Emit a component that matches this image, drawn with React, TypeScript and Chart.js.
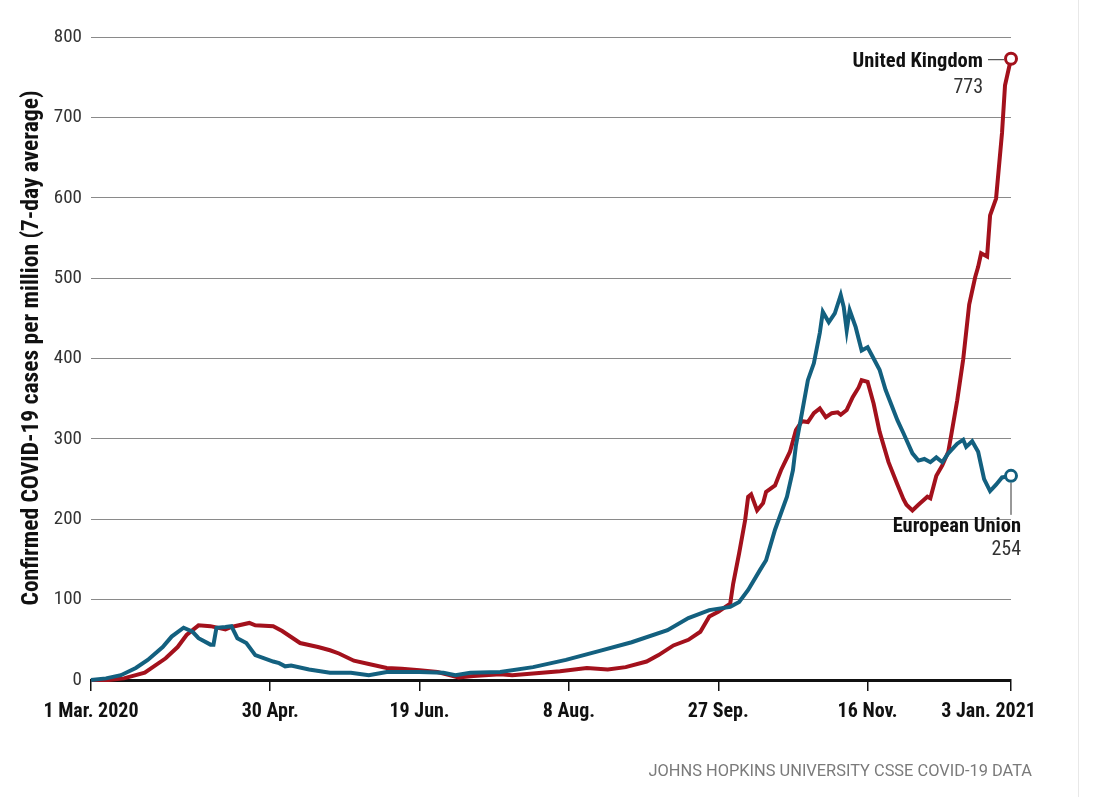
import React, { useEffect, useRef } from "react";
import { Chart, registerables } from "chart.js";

Chart.register(...registerables);

// x axis: days since 1 Mar. 2020
const xTickDays = [0, 60, 110, 160, 210, 260, 308];
const xTickLabels = ["1 Mar. 2020", "30 Apr.", "19 Jun.", "8 Aug.", "27 Sep.", "16 Nov.", "3 Jan. 2021"];
const yTickValues = [0, 100, 200, 300, 400, 500, 600, 700, 800];
const yTitle = "Confirmed COVID-19 cases per million (7-day average)";
const sourceText = "JOHNS HOPKINS UNIVERSITY CSSE COVID-19 DATA";

const ukDays = [0, 6, 11, 18, 25, 29, 32, 36, 40, 45, 47, 53, 55, 61, 64, 70, 76, 80, 83, 88, 93, 99, 104, 110, 116, 120, 123, 128, 137, 141, 148, 157, 166, 173, 179, 186, 190, 195, 200, 204, 207, 210, 214, 215, 217, 219, 220, 221, 223, 225, 226, 229, 231, 234, 236, 238, 240, 242, 244, 246, 248, 250, 251, 253, 255, 257, 258, 260, 262, 264, 267, 270, 272, 273, 275, 277, 280, 281, 283, 285, 287, 288, 290, 292, 294, 296, 297, 298, 300, 301, 303, 305, 306, 308];
const ukValues = [0, 0, 2, 9, 27, 41, 56, 68, 67, 63, 66, 71, 68, 67, 61, 46, 41, 37, 33, 24, 20, 15, 14, 12, 10, 6, 3, 5, 7, 6, 8, 11, 15, 13, 16, 23, 31, 43, 50, 60, 79, 85, 95, 120, 158, 199, 228, 231, 211, 220, 234, 242, 261, 284, 311, 322, 321, 332, 338, 327, 332, 333, 330, 336, 352, 364, 373, 371, 344, 309, 271, 243, 225, 218, 211, 218, 228, 226, 254, 267, 284, 305, 348, 399, 467, 501, 514, 531, 527, 578, 599, 681, 740, 773];

const euDays = [0, 5, 10, 15, 19, 24, 27, 31, 34, 36, 40, 41, 42, 45, 47, 49, 52, 55, 61, 63, 65, 67, 73, 80, 87, 93, 99, 110, 118, 122, 127, 137, 148, 159, 170, 181, 193, 200, 207, 214, 217, 220, 224, 226, 229, 233, 235, 236, 238, 240, 242, 244, 245, 247, 249, 251, 252, 253, 254, 256, 258, 260, 262, 264, 266, 270, 272, 275, 277, 279, 281, 283, 285, 287, 290, 292, 293, 295, 297, 299, 301, 303, 305, 308];
const euValues = [0, 2, 6, 15, 25, 41, 54, 65, 60, 52, 44, 44, 65, 66, 67, 52, 46, 31, 23, 21, 17, 18, 13, 9, 9, 6, 10, 10, 9, 6, 9, 10, 16, 25, 36, 47, 62, 77, 87, 91, 97, 112, 137, 149, 187, 228, 261, 292, 332, 373, 394, 432, 458, 445, 456, 479, 464, 435, 460, 439, 410, 414, 400, 386, 361, 323, 307, 282, 273, 275, 271, 277, 271, 282, 294, 299, 290, 297, 284, 250, 235, 243, 252, 254];

const UK_COLOR = "#a3111c";
const EU_COLOR = "#13607f";
const COND = "'Roboto Condensed', 'Liberation Sans Narrow', 'Arial Narrow', 'DejaVu Sans Condensed', sans-serif";

const annotationPlugin = {
  id: "endLabels",
  afterDatasetsDraw(chart: any) {
    const ctx = chart.ctx;
    const xs = chart.scales.x;
    const ys = chart.scales.y;
    const ukX = xs.getPixelForValue(ukDays[ukDays.length - 1]);
    const ukY = ys.getPixelForValue(ukValues[ukValues.length - 1]);
    const euX = xs.getPixelForValue(euDays[euDays.length - 1]);
    const euY = ys.getPixelForValue(euValues[euValues.length - 1]);
    ctx.save();
    ctx.strokeStyle = "#333";
    ctx.lineWidth = 1;
    ctx.beginPath();
    ctx.moveTo(ukX - 23, ukY + 1);
    ctx.lineTo(ukX - 7, ukY + 1);
    ctx.moveTo(euX, euY + 7);
    ctx.lineTo(euX, euY + 39);
    ctx.stroke();
    ctx.fillStyle = "#111";
    ctx.textAlign = "right";
    ctx.textBaseline = "middle";
    ctx.font = `bold 20.5px ${COND}`;
    ctx.fillText("United Kingdom", ukX - 28, ukY + 3);
    ctx.fillText("European Union", euX + 10, euY + 51);
    ctx.fillStyle = "#333";
    ctx.font = `20px ${COND}`;
    ctx.fillText(String(ukValues[ukValues.length - 1]), ukX - 28, ukY + 29);
    ctx.fillText(String(euValues[euValues.length - 1]), euX + 10, euY + 74);
    ctx.fillStyle = "#7a7a7a";
    ctx.font = "16.4px Roboto, sans-serif";
    ctx.fillText(sourceText, 1032, 772);
    // y-axis title
    ctx.translate(32, 348);
    ctx.rotate(-Math.PI / 2);
    ctx.textAlign = "center";
    ctx.fillStyle = "#111";
    ctx.font = `bold 23.5px ${COND}`;
    ctx.fillText(yTitle, 0, 0);
    ctx.restore();
  },
};

export default function App() {
  const canvasRef = useRef<HTMLCanvasElement | null>(null);

  useEffect(() => {
    const canvas = canvasRef.current;
    if (!canvas) return;
    const endRadius = (n: number) => (c: any) => (c.dataIndex === n - 1 ? 5.5 : 0);
    const chart = new Chart(canvas, {
      type: "line",
      data: {
        datasets: [
          {
            label: "European Union",
            data: euDays.map((d, i) => ({ x: d, y: euValues[i] })),
            borderColor: EU_COLOR,
            borderWidth: 4,
            pointRadius: endRadius(euDays.length),
            pointBackgroundColor: "#ffffff",
            pointBorderColor: EU_COLOR,
            pointBorderWidth: 3,
            tension: 0,
            clip: false as any,
          },
          {
            label: "United Kingdom",
            data: ukDays.map((d, i) => ({ x: d, y: ukValues[i] })),
            borderColor: UK_COLOR,
            borderWidth: 4,
            pointRadius: endRadius(ukDays.length),
            pointBackgroundColor: "#ffffff",
            pointBorderColor: UK_COLOR,
            pointBorderWidth: 3,
            tension: 0,
            clip: false as any,
          },
        ],
      },
      options: {
        responsive: false,
        animation: false,
        events: [],
        layout: { padding: { left: 0, top: 37, right: 98, bottom: 67 } },
        plugins: {
          legend: { display: false },
          tooltip: { enabled: false },
        },
        scales: {
          x: {
            type: "linear",
            min: 0,
            max: 308,
            afterBuildTicks: (scale: any) => {
              scale.ticks = xTickDays.map((v) => ({ value: v }));
            },
            afterFit: (scale: any) => {
              scale.height = 50;
            },
            ticks: {
              autoSkip: false,
              maxRotation: 0,
              padding: 9,
              color: "#111",
              font: { family: COND, size: 20, weight: "bold" },
              callback: (v: any) => {
                const i = xTickDays.indexOf(Number(v));
                if (i < 0) return "";
                // last label sits left of its tick, ending at the plot's right margin
                return i === xTickDays.length - 1 ? xTickLabels[i] + "\u2002\u2002\u2002\u2002\u2002" : xTickLabels[i];
              },
            },
            grid: {
              drawOnChartArea: false,
              drawTicks: true,
              tickLength: 11,
              color: "#111",
              lineWidth: 1.5,
            },
            border: { display: true, color: "#111", width: 3 },
          },
          y: {
            min: 0,
            max: 800,
            afterBuildTicks: (scale: any) => {
              scale.ticks = yTickValues.map((v) => ({ value: v }));
            },
            afterFit: (scale: any) => {
              scale.width = 91;
            },
            ticks: {
              padding: 9,
              color: "#333",
              font: { family: COND, size: 19 },
            },
            grid: {
              drawTicks: false,
              color: "#8a8a8a",
              lineWidth: 1,
            },
            border: { display: false },
          },
        },
      },
      plugins: [annotationPlugin],
    } as any);
    return () => chart.destroy();
  }, []);

  return (
    <div style={{ position: "fixed", left: 0, top: 0, width: 1109, height: 797, background: "#fff" }}>
      <canvas ref={canvasRef} width={1109} height={797} style={{ display: "block" }} />
      <div style={{ position: "absolute", left: 1078, top: 0, width: 1, height: 797, background: "#e8e8e8" }} />
    </div>
  );
}
